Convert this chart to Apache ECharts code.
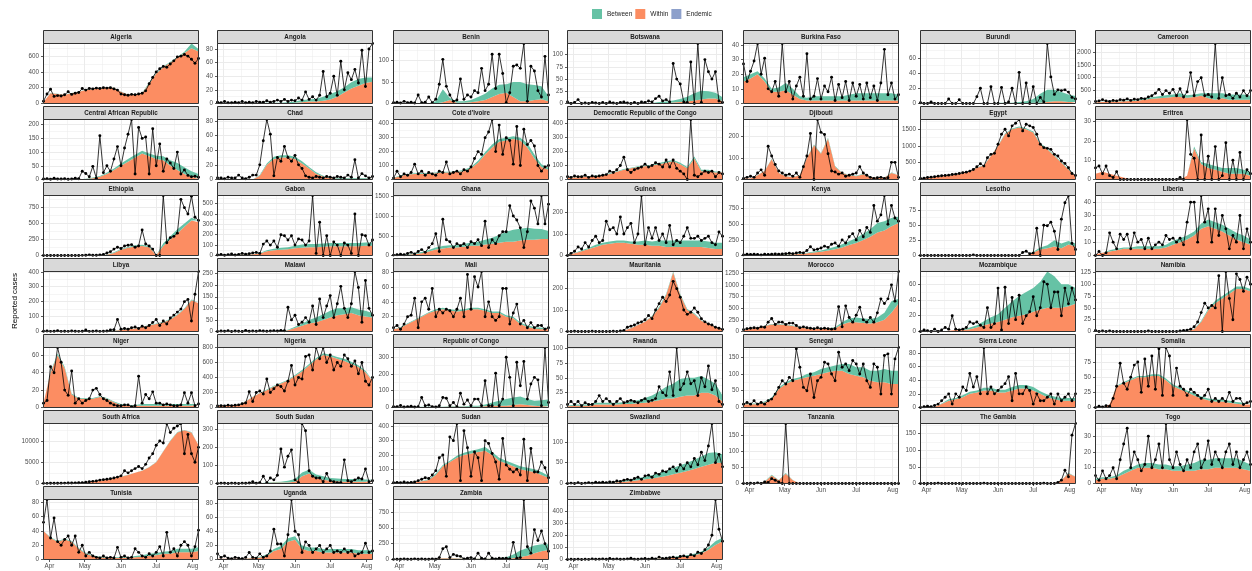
<!DOCTYPE html>
<html>
<head>
<meta charset="utf-8">
<script src="https://cdn.jsdelivr.net/npm/echarts@6/dist/echarts.min.js"></script>
<style>html,body{margin:0;padding:0;background:#fff}#chart{width:1252px;height:571px}</style>
</head>
<body>
<div id="chart"></div>
<script>
// ---- time frame (daily categories) ----
const startDate = [2020, 2, 27];   // 27 Mar 2020
const dayCount = 133;              // through 6 Aug 2020
const monthNames = ['Jan','Feb','Mar','Apr','May','Jun','Jul','Aug','Sep','Oct','Nov','Dec'];

// ---- panels ----
const countries = ['Algeria','Angola','Benin','Botswana','Burkina Faso','Burundi','Cameroon',
 'Central African Republic','Chad',"Cote d'Ivoire",'Democratic Republic of the Congo','Djibouti','Egypt','Eritrea',
 'Ethiopia','Gabon','Ghana','Guinea','Kenya','Lesotho','Liberia',
 'Libya','Malawi','Mali','Mauritania','Morocco','Mozambique','Namibia',
 'Niger','Nigeria','Republic of Congo','Rwanda','Senegal','Sierra Leone','Somalia',
 'South Africa','South Sudan','Sudan','Swaziland','Tanzania','The Gambia','Togo',
 'Tunisia','Uganda','Zambia','Zimbabwe'];
const yTickStep = [200,20,50,25,10,20,500, 50,20,100,100,100,500,10, 250,100,500,100,250,25,10,
 100,50,20,100,250,20,25, 20,200,100,25,50,20,25, 5000,100,100,50,50,50,10, 20,20,250,100];

// Reported cases: one value every 3 days; Within / Between: one value every 6 days
const R_Algeria=[30,120,180,90,100,95,110,150,115,130,140,190,170,190,185,195,190,200,195,200,185,170,120,110,105,115,110,120,130,160,250,330,400,440,470,460,500,540,590,600,620,600,560,510,570];
const W_Algeria=[20,130,120,110,130,150,170,180,190,200,200,150,110,110,130,250,380,460,520,580,640,700,660];
const B_Algeria=[0,2,3,3,3,3,3,3,3,3,3,3,3,3,5,15,10,10,10,10,15,60,30];
const R_Angola=[2,1,3,1,1,2,1,3,1,2,1,3,2,2,4,2,3,5,3,6,3,5,4,8,5,17,6,10,5,12,47,10,15,40,12,62,20,45,35,50,30,78,25,80,88];
const W_Angola=[0,0,0,0,0,0,0,0,0,0,0,1,2,3,3,4,6,10,16,22,26,30,32];
const B_Angola=[0,0,0,0,0,0,1,1,1,1,2,2,3,3,4,6,8,8,8,9,10,8,6];
const R_Benin=[2,3,1,5,2,3,1,20,2,3,15,2,10,45,103,40,20,5,8,57,10,20,15,30,25,82,30,45,115,35,115,70,2,25,87,90,82,140,5,87,76,30,15,110,20];
const W_Benin=[0,0,0,0,0,0,0,3,8,2,2,3,5,8,15,22,25,15,5,5,8,10,5];
const B_Benin=[0,0,0,0,0,0,5,30,5,3,3,5,10,15,20,22,20,35,45,40,35,30,12];
const R_Botswana=[3,0,2,8,0,1,0,2,1,0,2,0,3,1,0,2,3,1,0,2,0,3,2,5,3,10,15,5,8,3,82,50,40,3,2,85,0,123,2,90,65,50,65,5,2];
const W_Botswana=[0,0,0,0,0,0,0,0,0,0,0,0,0,1,1,2,3,4,6,8,10,10,5];
const B_Botswana=[0,0,0,0,0,0,0,0,0,0,0,1,1,2,3,4,6,10,15,18,15,12,8];
const R_BurkinaFaso=[27,15,22,29,41,20,31,10,8,15,5,41,8,15,3,12,18,5,34,3,5,17,3,12,8,18,2,13,4,15,2,14,5,13,3,14,4,12,2,14,37,6,14,3,6];
const W_BurkinaFaso=[15,17,20,15,8,8,9,6,3,2,2,2,2,2,2,2,2,2,2,2,2,2,2];
const B_BurkinaFaso=[3,3,2,2,2,3,5,4,2,2,3,3,3,3,3,4,5,5,5,5,5,5,4];
const R_Burundi=[1,0,0,2,0,0,0,0,6,0,0,5,0,0,0,0,9,20,0,0,22,0,0,21,0,2,20,0,41,0,27,0,22,0,8,2,79,35,12,18,17,18,15,8,6];
const W_Burundi=[0,0,0,0,0,0,0,0,0,0,0,0,0,0,0,0,1,1,2,3,3,2,2];
const B_Burundi=[0,0,0,0,0,0,0,0,0,0,0,1,1,1,2,3,5,12,16,15,12,10,8];
const R_Cameroon=[80,100,150,100,80,120,100,150,130,180,120,170,150,200,180,250,300,400,550,350,500,400,550,300,570,250,450,1200,300,850,1000,300,350,250,2330,200,1000,300,350,200,400,250,500,300,500];
const W_Cameroon=[50,60,70,80,90,100,120,150,180,200,220,250,250,220,250,300,200,150,200,150,150,150,150];
const B_Cameroon=[10,10,15,20,20,30,40,50,60,80,100,100,150,100,100,100,200,250,200,200,200,200,150];
const R_CAR=[2,3,1,5,2,2,3,1,2,5,3,30,22,10,48,5,160,25,50,30,75,120,50,115,165,219,20,190,150,155,20,185,50,130,30,75,60,40,100,20,35,15,10,12,8];
const W_CAR=[0,0,0,0,0,1,2,5,10,20,35,50,65,80,95,85,75,70,50,35,20,10,5];
const B_CAR=[0,0,0,0,0,0,1,2,3,5,5,8,10,10,10,10,12,15,20,25,25,20,15];
const R_Chad=[2,2,1,3,2,2,6,2,1,3,6,6,20,53,82,62,5,30,25,45,30,25,33,20,15,5,3,2,4,3,2,4,3,2,4,3,2,6,3,27,2,8,5,2,4];
const W_Chad=[0,0,0,0,0,0,5,20,28,30,30,28,22,15,8,4,2,1,1,1,1,1,1];
const B_Chad=[0,0,0,0,0,0,1,2,3,3,3,3,3,2,2,1,1,1,1,1,1,1,1];
const R_CoteDIvoire=[10,60,20,40,30,50,110,40,60,30,50,40,30,60,50,125,40,50,60,40,70,60,90,150,200,180,300,340,430,200,390,180,300,280,110,380,100,360,250,280,240,100,60,90,100];
const W_CoteDIvoire=[10,25,35,40,40,40,45,50,50,55,60,80,120,180,230,270,280,290,280,230,150,90,70];
const B_CoteDIvoire=[2,5,5,5,5,5,5,5,5,5,10,10,15,15,20,20,20,20,20,30,30,20,15];
const R_DRC=[20,15,25,20,20,30,15,25,20,25,30,35,60,50,70,100,160,70,50,70,80,90,110,90,100,120,110,90,140,90,140,80,60,40,0,430,30,20,40,60,50,60,20,50,40];
const W_DRC=[15,15,18,20,25,30,40,55,70,80,90,95,100,110,120,130,110,80,150,60,60,50,50];
const B_DRC=[2,2,2,2,3,3,5,5,5,5,5,5,5,8,10,10,10,10,15,10,10,8,5];
const R_Djibouti=[5,10,15,10,30,45,20,155,110,70,40,30,20,25,15,30,10,60,110,215,0,280,220,210,120,40,35,25,30,15,20,25,30,60,30,20,10,5,8,10,5,8,80,80,10];
const W_Djibouti=[5,5,20,40,95,30,15,10,20,100,160,120,190,60,30,20,15,25,10,8,8,30,20];
const B_Djibouti=[0,0,1,1,2,2,1,1,2,3,3,3,5,3,2,2,2,2,1,1,1,3,3];
const R_Egypt=[30,40,60,70,80,100,110,120,130,150,160,180,200,220,250,300,380,470,400,650,750,780,1050,1350,1500,1300,1600,1680,1790,1450,1650,1600,1550,1350,1050,950,930,900,750,700,550,480,350,180,120];
const W_Egypt=[20,50,70,100,120,150,190,240,350,420,700,1000,1350,1500,1550,1500,1400,1050,900,700,500,300,100];
const B_Egypt=[2,3,5,5,5,5,5,5,10,10,10,15,20,25,30,30,30,30,30,25,20,20,20];
const R_Eritrea=[6,7,3,7,2,1,4,0,0,0,0,0,0,0,0,0,0,0,0,0,0,0,0,0,1,0,31,13,11,0,23,0,12,0,17,0,2,19,0,10,0,14,0,5,3];
const W_Eritrea=[3,4,3,2,1,0,0,0,0,0,0,0,0,2,16,8,6,5,4,3,3,3,2];
const B_Eritrea=[0,0,0,0,0,0,0,0,0,0,0,0,0,0,1,1,2,2,2,3,3,2,2];
const R_Ethiopia=[0,0,1,0,0,0,1,0,0,1,0,2,5,10,5,3,10,15,40,60,100,130,110,150,160,170,130,150,400,180,150,100,0,0,940,200,280,300,350,880,750,650,930,600,550];
const W_Ethiopia=[0,0,0,0,0,0,0,1,3,10,40,90,120,140,150,130,5,150,250,350,450,550,520];
const B_Ethiopia=[0,0,0,0,0,0,0,0,2,5,10,10,15,20,20,20,0,40,50,60,50,40,30];
const R_Gabon=[5,10,3,8,15,5,10,20,12,18,25,30,20,110,140,100,140,80,200,190,150,190,100,160,150,100,140,578,20,320,0,190,0,130,100,0,120,100,20,400,0,200,190,100,150];
const W_Gabon=[2,3,5,8,10,12,20,40,50,55,60,70,75,80,80,85,90,90,90,90,90,95,95];
const B_Gabon=[0,1,1,2,2,3,5,10,15,20,20,25,30,30,30,30,30,30,30,30,30,30,30];
const R_Ghana=[10,20,30,20,50,80,40,100,150,80,200,300,550,100,920,400,350,200,300,250,300,200,350,300,400,250,870,200,400,300,500,600,600,1260,1000,900,700,200,600,1380,1200,800,1520,800,1300];
const W_Ghana=[5,10,20,40,60,100,150,180,200,200,220,250,250,280,300,320,350,350,380,400,400,420,420];
const B_Ghana=[2,5,10,20,30,40,50,60,60,60,70,80,100,120,150,200,250,300,300,300,280,250,200];
const R_Guinea=[0,10,20,40,30,60,40,70,90,60,70,160,120,130,100,180,100,130,150,60,100,280,50,130,80,130,70,100,60,140,50,70,60,90,130,80,80,90,70,80,90,60,50,110,90];
const W_Guinea=[2,10,20,30,40,50,55,60,60,55,50,50,45,45,40,40,40,40,40,40,35,30,30];
const B_Guinea=[1,2,5,5,10,10,10,10,10,10,15,20,20,25,30,30,30,30,30,30,30,30,30];
const R_Kenya=[10,20,15,20,15,10,20,15,20,25,20,25,30,35,30,40,50,40,80,140,90,100,120,150,130,180,200,150,250,200,300,350,250,400,300,450,370,800,550,650,960,500,800,600,550];
const W_Kenya=[5,8,10,10,12,15,18,20,25,35,50,60,80,100,130,170,200,250,300,370,400,470,520];
const B_Kenya=[2,2,2,3,3,5,5,5,10,10,15,20,30,40,50,60,80,100,120,150,150,130,100];
const R_Lesotho=[0,0,0,0,0,0,0,0,0,0,0,0,0,0,0,1,0,0,0,0,0,0,0,0,0,0,0,0,0,5,7,3,4,45,0,50,49,55,40,10,60,87,99,20,10];
const W_Lesotho=[0,0,0,0,0,0,0,0,0,0,0,0,0,0,0,0,5,10,12,15,12,18,15];
const B_Lesotho=[0,0,0,0,0,0,0,0,0,0,0,0,0,0,0,0,1,3,5,10,8,6,5];
const R_Liberia=[0,3,0,2,17,10,5,16,12,16,5,17,10,12,5,13,5,8,10,8,15,12,13,10,13,8,25,40,40,10,45,25,35,10,35,15,30,20,5,15,10,30,5,20,10];
const W_Liberia=[1,2,3,4,5,5,5,5,5,5,6,8,10,12,15,20,22,20,18,15,12,10,8];
const B_Liberia=[0,0,1,1,1,1,2,2,2,2,2,3,3,3,3,4,5,5,5,5,5,5,4];
const R_Libya=[2,3,1,2,5,1,2,1,3,2,1,2,10,1,2,3,1,2,3,10,12,80,15,20,15,25,30,20,35,25,40,60,80,40,70,50,90,110,130,150,200,215,70,250,402];
const W_Libya=[0,0,0,0,0,0,0,0,0,0,5,10,15,20,30,40,50,60,80,110,150,210,190];
const B_Libya=[0,0,0,0,0,0,0,0,0,0,1,1,2,2,2,3,3,5,5,5,5,5,5];
const R_Malawi=[0,2,1,3,0,2,1,0,5,1,2,1,3,2,1,2,3,2,5,3,105,50,70,30,40,60,40,110,30,140,60,110,155,60,120,195,100,60,120,259,190,40,220,100,70];
const W_Malawi=[0,0,0,0,0,0,0,0,1,2,5,15,25,35,40,50,60,70,75,80,70,65,60];
const B_Malawi=[0,0,0,0,0,0,0,0,0,1,3,5,10,15,20,25,30,30,25,25,25,25,20];
const R_Mali=[5,8,3,10,20,22,45,5,40,45,30,58,20,30,25,30,28,20,30,45,20,77,30,74,60,81,20,40,20,15,20,58,58,10,25,37,10,15,5,12,5,8,8,3,5];
const W_Mali=[3,5,10,15,20,25,28,30,28,27,28,30,30,28,25,25,20,18,10,6,4,3,3];
const B_Mali=[0,1,1,1,1,1,2,2,2,2,2,2,2,2,2,2,2,2,2,2,2,2,2];
const R_Mauritania=[0,0,1,0,0,0,0,1,0,0,0,0,0,1,0,2,5,20,25,30,40,45,55,75,60,100,130,160,140,170,234,200,160,100,80,90,110,90,60,45,35,30,20,15,10];
const W_Mauritania=[0,0,0,0,0,0,0,0,3,15,30,45,70,110,170,275,170,100,80,50,35,20,10];
const B_Mauritania=[0,0,0,0,0,0,0,0,0,1,2,2,3,5,5,5,5,5,5,3,2,2,2];
const R_Morocco=[40,60,70,80,70,100,90,200,280,150,200,200,150,180,180,130,80,100,80,70,60,80,60,70,60,50,60,530,100,550,300,200,350,520,250,200,300,200,400,700,600,700,1000,650,1286];
const W_Morocco=[30,60,80,120,150,150,140,120,80,70,60,60,60,70,150,200,200,180,170,200,250,400,600];
const B_Morocco=[5,5,5,5,10,10,10,10,10,10,10,10,10,20,50,80,100,100,100,100,150,250,100];
const R_Mozambique=[0,2,1,0,3,0,2,5,3,20,3,2,3,5,12,10,12,8,5,30,5,10,55,2,56,10,43,15,46,10,20,25,44,20,30,63,60,30,50,50,20,55,35,55,40];
const W_Mozambique=[0,0,0,0,1,2,2,3,5,8,10,12,15,18,20,22,25,28,30,30,30,32,35];
const B_Mozambique=[0,0,0,0,0,0,1,2,3,5,8,10,15,20,25,28,30,35,46,40,30,28,20];
const R_Namibia=[2,0,1,0,1,0,0,0,0,0,0,0,0,0,0,1,0,0,0,0,0,0,0,0,1,2,3,5,10,20,40,60,50,55,50,118,0,127,70,25,122,110,85,115,100];
const W_Namibia=[0,0,0,0,0,0,0,0,0,0,0,0,0,1,5,20,45,60,70,80,90,90,85];
const B_Namibia=[0,0,0,0,0,0,0,0,0,0,0,0,0,0,1,2,3,5,5,5,5,5,5];
const R_Niger=[5,8,47,40,69,52,20,14,42,5,10,5,8,10,20,22,15,10,8,5,3,2,2,3,3,1,2,36,5,15,10,18,5,5,3,4,3,2,2,3,17,5,17,2,4];
const W_Niger=[5,40,60,45,15,10,10,10,12,10,6,3,2,2,2,2,2,2,2,2,2,2,2];
const B_Niger=[0,1,2,2,1,1,1,1,1,1,1,1,1,1,2,2,2,2,2,2,2,2,2];
const R_Nigeria=[20,25,20,30,25,30,35,50,60,210,80,200,220,180,380,200,250,300,280,220,350,560,300,400,380,680,700,500,800,650,800,600,700,500,600,550,700,650,550,620,450,600,350,300,400];
const W_Nigeria=[20,20,25,35,80,140,190,230,280,320,360,420,480,560,640,700,680,650,620,580,540,470,350];
const B_Nigeria=[2,2,2,3,5,5,5,10,10,10,10,15,20,20,20,25,25,25,30,30,25,20,15];
const R_RepCongo=[5,5,12,3,5,8,3,5,60,10,15,5,3,10,60,55,10,30,5,85,20,45,10,50,50,10,160,10,10,205,10,50,300,180,10,270,130,275,50,140,180,165,10,358,30];
const W_RepCongo=[1,2,2,2,3,3,3,3,5,5,5,5,5,8,10,10,10,15,20,15,10,8,8];
const B_RepCongo=[1,1,1,1,2,2,2,2,3,3,3,5,5,10,20,30,40,45,45,35,30,35,40];
const R_Rwanda=[5,10,5,10,3,8,5,5,10,20,10,15,10,5,10,15,8,10,12,10,8,12,15,10,12,15,35,25,20,60,20,101,30,40,60,40,45,20,50,35,70,30,45,10,5];
const W_Rwanda=[2,3,3,3,5,5,5,5,6,6,7,8,10,12,15,15,18,20,20,25,25,20,10];
const B_Rwanda=[1,2,2,2,3,3,3,3,3,4,5,8,10,15,20,25,30,30,30,28,22,20,10];
const R_Senegal=[10,15,10,20,10,15,10,20,25,40,60,80,70,90,80,175,120,60,50,100,30,80,90,135,130,100,80,165,120,130,110,140,130,100,130,80,60,130,120,40,155,160,40,145,179];
const W_Senegal=[10,10,10,15,25,55,70,80,85,90,95,100,105,110,110,100,95,90,80,75,75,70,70];
const B_Senegal=[2,2,2,3,5,5,5,5,5,10,10,15,15,15,20,30,25,30,30,35,40,40,40];
const R_SierraLeone=[0,1,2,1,3,5,10,15,20,5,20,15,30,25,50,30,45,20,88,20,30,20,25,30,35,45,10,50,20,20,30,25,5,20,10,10,15,20,5,20,10,15,20,10,20];
const W_SierraLeone=[0,0,1,5,10,12,15,20,22,25,25,22,22,25,28,28,25,20,15,12,10,10,10];
const B_SierraLeone=[0,0,0,1,2,2,3,3,3,4,4,4,4,5,5,5,5,4,4,4,4,4,4];
const R_Somalia=[0,2,1,3,2,15,35,73,40,30,50,70,75,25,80,35,85,30,97,20,99,85,20,65,35,30,20,30,25,20,15,20,30,10,15,10,15,10,25,10,15,15,5,8,10];
const W_Somalia=[0,0,5,35,40,45,50,50,52,52,45,35,30,25,20,15,12,10,10,8,6,5,5];
const B_Somalia=[0,0,0,1,2,2,2,2,3,3,3,3,3,3,3,3,3,3,3,3,3,3,2];
const R_SouthAfrica=[30,40,50,60,70,80,90,100,120,150,180,200,300,400,500,600,800,900,1000,1100,1300,1500,1800,3000,2500,3000,3500,4000,3500,4500,6000,7000,9000,10000,9500,14100,12000,13000,13500,14100,7000,11500,7000,5000,8500];
const W_SouthAfrica=[20,30,40,50,70,100,200,400,600,900,1200,1600,2000,2500,3000,3800,5000,7500,10000,12000,12500,12000,9000];
const B_SouthAfrica=[0,0,0,0,0,0,5,10,10,20,20,30,30,40,50,50,60,80,100,100,100,100,80];
const R_SouthSudan=[0,2,1,0,2,1,0,2,1,3,10,2,5,40,5,30,20,45,190,90,150,185,20,5,330,290,70,40,30,30,10,55,15,10,5,5,130,15,10,20,30,25,80,10,15];
const W_SouthSudan=[0,0,0,0,0,0,1,3,5,5,5,10,40,55,30,20,15,12,10,10,10,10,10];
const B_SouthSudan=[0,0,0,0,0,0,1,2,3,5,10,15,20,20,20,20,15,15,15,15,15,12,10];
const R_Sudan=[5,8,5,10,5,8,10,20,30,40,35,60,90,180,200,50,325,300,420,20,370,250,50,220,180,20,300,280,210,150,30,315,130,100,80,100,60,310,20,245,80,80,150,110,40];
const W_Sudan=[2,3,5,8,15,25,60,120,150,180,200,210,220,230,200,160,140,120,100,90,80,60,40];
const B_Sudan=[1,1,2,2,3,5,10,10,10,15,15,20,20,25,20,20,20,20,20,20,20,20,15];
const R_Swaziland=[0,1,0,2,0,1,2,1,3,2,3,2,4,3,6,5,8,10,8,12,15,10,18,20,15,25,22,30,28,35,40,30,45,35,50,40,60,45,75,55,90,144,50,70,40];
const W_Swaziland=[0,0,0,1,1,2,2,3,4,6,8,10,12,15,18,22,26,30,35,40,45,50,50];
const B_Swaziland=[0,0,0,0,1,1,1,2,3,4,5,6,8,10,12,15,18,20,22,25,28,25,20];
const R_Tanzania=[0,0,1,0,2,0,5,3,15,10,5,0,185,0,0,0,0,0,0,0,0,0,0,0,0,0,0,0,0,0,0,0,0,0,0,0,0,0,0,0,0,0,0,0,0];
const W_Tanzania=[0,0,1,5,25,10,30,10,0,0,0,0,0,0,0,0,0,0,0,0,0,0,0];
const B_Tanzania=[0,0,0,1,2,1,2,1,0,0,0,0,0,0,0,0,0,0,0,0,0,0,0];
const R_Gambia=[0,0,0,0,0,1,0,0,0,0,0,0,0,0,0,0,0,0,1,0,0,0,0,0,0,0,0,0,0,0,0,0,0,0,0,1,0,0,0,3,10,40,20,145,180];
const W_Gambia=[0,0,0,0,0,0,0,0,0,0,0,0,0,0,0,0,0,0,0,0,10,30,20];
const B_Gambia=[0,0,0,0,0,0,0,0,0,0,0,0,0,0,0,0,0,0,0,0,0,2,0];
const R_Togo=[5,2,8,3,5,10,3,15,25,35,10,20,15,8,12,30,10,15,25,10,38,15,10,20,12,8,15,10,20,25,10,15,27,12,20,15,10,20,25,12,20,10,15,20,12];
const W_Togo=[2,3,3,4,6,8,10,10,10,9,9,8,8,8,8,9,9,10,10,10,10,9,8];
const B_Togo=[1,1,1,1,2,2,2,3,3,3,3,3,3,4,5,6,6,6,6,6,6,5,4];
const R_Tunisia=[52,84,30,58,25,20,28,33,20,33,10,20,5,10,5,3,2,5,2,3,2,17,3,5,2,3,15,10,5,3,8,5,10,18,5,38,10,15,5,20,25,20,5,18,41];
const W_Tunisia=[40,30,25,28,25,15,8,5,3,2,2,2,2,3,4,5,6,8,8,10,10,10,12];
const B_Tunisia=[0,1,1,1,1,1,1,1,1,1,1,1,1,2,2,3,3,3,4,5,5,5,5];
const R_Uganda=[8,3,5,2,1,3,2,1,3,10,3,2,8,3,5,12,43,22,22,5,35,85,40,35,10,25,20,10,15,20,10,15,20,10,12,10,15,10,12,5,8,10,23,10,12];
const W_Uganda=[1,1,1,1,1,2,3,5,12,15,25,28,15,12,12,10,10,10,10,10,8,8,8];
const B_Uganda=[0,0,0,0,0,1,1,2,3,4,5,5,5,5,5,5,5,5,5,5,5,5,5];
const R_Zambia=[2,5,3,8,5,3,10,5,8,3,5,10,5,30,170,200,30,80,60,50,10,20,30,10,100,20,10,100,20,10,20,15,20,10,270,20,30,945,200,100,470,300,450,250,130];
const W_Zambia=[0,0,1,2,3,5,10,20,20,15,10,10,10,10,10,10,15,20,40,60,100,130,150];
const B_Zambia=[0,0,0,1,1,2,3,5,5,5,5,5,5,5,5,10,20,60,100,120,120,110,90];
const R_Zimbabwe=[0,2,1,3,0,2,1,5,2,3,5,2,8,3,5,2,3,5,10,3,2,5,8,3,10,5,20,8,10,15,20,10,25,30,20,40,30,60,50,80,120,200,495,250,150];
const W_Zimbabwe=[0,0,0,0,0,0,0,0,0,1,2,3,5,8,10,15,20,25,35,50,80,120,150];
const B_Zimbabwe=[0,0,0,0,0,0,0,0,0,0,1,1,2,3,5,5,8,10,12,15,20,30,30];

const reportedList=[R_Algeria,R_Angola,R_Benin,R_Botswana,R_BurkinaFaso,R_Burundi,R_Cameroon,R_CAR,R_Chad,R_CoteDIvoire,R_DRC,R_Djibouti,R_Egypt,R_Eritrea,R_Ethiopia,R_Gabon,R_Ghana,R_Guinea,R_Kenya,R_Lesotho,R_Liberia,R_Libya,R_Malawi,R_Mali,R_Mauritania,R_Morocco,R_Mozambique,R_Namibia,R_Niger,R_Nigeria,R_RepCongo,R_Rwanda,R_Senegal,R_SierraLeone,R_Somalia,R_SouthAfrica,R_SouthSudan,R_Sudan,R_Swaziland,R_Tanzania,R_Gambia,R_Togo,R_Tunisia,R_Uganda,R_Zambia,R_Zimbabwe];
const withinList=[W_Algeria,W_Angola,W_Benin,W_Botswana,W_BurkinaFaso,W_Burundi,W_Cameroon,W_CAR,W_Chad,W_CoteDIvoire,W_DRC,W_Djibouti,W_Egypt,W_Eritrea,W_Ethiopia,W_Gabon,W_Ghana,W_Guinea,W_Kenya,W_Lesotho,W_Liberia,W_Libya,W_Malawi,W_Mali,W_Mauritania,W_Morocco,W_Mozambique,W_Namibia,W_Niger,W_Nigeria,W_RepCongo,W_Rwanda,W_Senegal,W_SierraLeone,W_Somalia,W_SouthAfrica,W_SouthSudan,W_Sudan,W_Swaziland,W_Tanzania,W_Gambia,W_Togo,W_Tunisia,W_Uganda,W_Zambia,W_Zimbabwe];
const betweenList=[B_Algeria,B_Angola,B_Benin,B_Botswana,B_BurkinaFaso,B_Burundi,B_Cameroon,B_CAR,B_Chad,B_CoteDIvoire,B_DRC,B_Djibouti,B_Egypt,B_Eritrea,B_Ethiopia,B_Gabon,B_Ghana,B_Guinea,B_Kenya,B_Lesotho,B_Liberia,B_Libya,B_Malawi,B_Mali,B_Mauritania,B_Morocco,B_Mozambique,B_Namibia,B_Niger,B_Nigeria,B_RepCongo,B_Rwanda,B_Senegal,B_SierraLeone,B_Somalia,B_SouthAfrica,B_SouthSudan,B_Sudan,B_Swaziland,B_Tanzania,B_Gambia,B_Togo,B_Tunisia,B_Uganda,B_Zambia,B_Zimbabwe];

// ---- styling / layout ----
const FONT = '"Liberation Sans", Arial, Helvetica, sans-serif';
const COL_BETWEEN = '#66C2A5', COL_WITHIN = '#FC8D62', COL_ENDEMIC = '#8DA0CB';
const GRID_COL = '#EBEBEB', BORDER_COL = '#333333', TEXT_COL = '#4D4D4D';
const colLeft = [43.5, 217.5, 393.5, 567.5, 743.5, 920.5, 1095.5];
const panelW = 155, plotH = 60, stripH = 13, rowPitch = 76, firstStripTop = 30.5;

const dates = [];
for (let d = 0; d < dayCount; d++) {
  const dt = new Date(startDate[0], startDate[1], startDate[2] + d);
  dates.push(dt.getFullYear() + '-' + String(dt.getMonth() + 1).padStart(2, '0') + '-' + String(dt.getDate()).padStart(2, '0'));
}
const dayOf = (i, n) => Math.round(i * (dayCount - 1) / (n - 1));
const toPts = arr => arr.map((v, i) => [dates[dayOf(i, arr.length)], v]);
const isMonthStart = (idx, val) => String(val).slice(8) === '01';
const isMidMonth = (idx, val) => String(val).slice(8) === '16';
const monthLabel = val => monthNames[parseInt(String(val).slice(5, 7), 10) - 1];

const grids = [], xAxes = [], yAxes = [], series = [], elements = [];

countries.forEach((name, k) => {
  const r = Math.floor(k / 7), c = k % 7;
  const left = colLeft[c];
  const stripTop = firstStripTop + r * rowPitch;
  const top = stripTop + stripH;
  const isBottom = k + 7 >= countries.length;
  const rep = reportedList[k], win = withinList[k], bet = betweenList[k];
  const yMax = Math.max(...rep, ...win.map((w, i) => w + bet[i]));
  const step = yTickStep[k];
  const ticks = [];
  for (let v = 0; v <= yMax + 1e-9; v += step) ticks.push(v);

  grids.push({ left: left, top: top, width: panelW, height: plotH, show: false, containLabel: false, outerBoundsMode: 'none' });

  xAxes.push({
    type: 'category', gridIndex: k, data: dates, boundaryGap: false,
    axisLine: { show: false },
    axisTick: { show: isBottom, interval: isMonthStart, length: 2.5, lineStyle: { color: BORDER_COL, width: 0.8 } },
    axisLabel: { show: isBottom, interval: isMonthStart, formatter: monthLabel, fontSize: 6.3, color: TEXT_COL, margin: 3.5, fontFamily: FONT },
    splitLine: { show: true, interval: isMonthStart, lineStyle: { color: GRID_COL, width: 1 } }
  });
  xAxes.push({
    type: 'category', gridIndex: k, position: 'top', data: dates, boundaryGap: false,
    axisLine: { show: false }, axisTick: { show: false }, axisLabel: { show: false },
    splitLine: { show: true, interval: isMidMonth, lineStyle: { color: GRID_COL, width: 0.5 } }
  });

  yAxes.push({
    type: 'value', gridIndex: k, min: 0, max: yMax, interval: step,
    axisLine: { show: false },
    axisTick: { show: true, length: 2.5, customValues: ticks, lineStyle: { color: BORDER_COL, width: 0.8 } },
    axisLabel: {
      customValues: ticks, fontSize: 6.3, color: TEXT_COL, margin: 4.5, fontFamily: FONT,
      formatter: v => (Math.abs(v / step - Math.round(v / step)) < 1e-6 ? String(Math.round(v)) : '')
    },
    splitLine: { show: true, lineStyle: { color: GRID_COL, width: 1 } }
  });
  yAxes.push({
    type: 'value', gridIndex: k, min: 0, max: yMax, interval: step / 2, position: 'right',
    axisLine: { show: false }, axisTick: { show: false }, axisLabel: { show: false },
    splitLine: { show: true, lineStyle: { color: GRID_COL, width: 0.5 } }
  });

  series.push({
    name: 'Within', type: 'line', xAxisIndex: 2 * k, yAxisIndex: 2 * k, stack: 'st' + k,
    data: toPts(win), symbol: 'none', color: COL_WITHIN,
    lineStyle: { width: 0, opacity: 0 }, areaStyle: { color: COL_WITHIN, opacity: 1 }, z: 2, silent: true
  });
  series.push({
    name: 'Between', type: 'line', xAxisIndex: 2 * k, yAxisIndex: 2 * k, stack: 'st' + k,
    data: toPts(bet), symbol: 'none', color: COL_BETWEEN,
    lineStyle: { width: 0, opacity: 0 }, areaStyle: { color: COL_BETWEEN, opacity: 1 }, z: 2, silent: true
  });
  series.push({
    name: 'Reported', type: 'line', xAxisIndex: 2 * k, yAxisIndex: 2 * k,
    data: toPts(rep), symbol: 'circle', symbolSize: 2.9, showAllSymbol: true, color: '#000',
    lineStyle: { color: '#000', width: 0.8 }, itemStyle: { color: '#000' }, z: 3, silent: true
  });

  elements.push({ type: 'rect', silent: true, z: 100,
    shape: { x: left, y: stripTop, width: panelW, height: stripH },
    style: { fill: '#D9D9D9', stroke: BORDER_COL, lineWidth: 1 } });
  elements.push({ type: 'text', silent: true, z: 101, x: left + panelW / 2, y: stripTop + stripH / 2 + 0.3,
    style: { text: name, fill: '#1A1A1A', fontSize: 6.3, fontWeight: 'bold', fontFamily: FONT, align: 'center', verticalAlign: 'middle' } });
  elements.push({ type: 'rect', silent: true, z: 100,
    shape: { x: left, y: top, width: panelW, height: plotH },
    style: { fill: 'none', stroke: BORDER_COL, lineWidth: 1 } });
});

series.push({ name: 'Endemic', type: 'line', xAxisIndex: 0, yAxisIndex: 0, data: [], color: COL_ENDEMIC, itemStyle: { color: COL_ENDEMIC } });

elements.push({ type: 'text', silent: true, z: 101, x: 15, y: 301, rotation: Math.PI / 2,
  style: { text: 'Reported cases', fill: '#000', fontSize: 8, fontFamily: FONT, align: 'center', verticalAlign: 'middle' } });

const chart = echarts.init(document.getElementById('chart'), null, { renderer: 'canvas' });
chart.setOption({
  animation: false,
  backgroundColor: '#ffffff',
  legend: {
    data: [
      { name: 'Between', itemStyle: { color: COL_BETWEEN, borderWidth: 0 } },
      { name: 'Within', itemStyle: { color: COL_WITHIN, borderWidth: 0 } },
      { name: 'Endemic', itemStyle: { color: COL_ENDEMIC, borderWidth: 0 } }
    ],
    icon: 'rect', itemWidth: 10, itemHeight: 10, itemGap: 3, left: 592, top: 9, padding: 0,
    selectedMode: false, textStyle: { fontSize: 6.5, color: '#1A1A1A', fontFamily: FONT }
  },
  grid: grids,
  xAxis: xAxes,
  yAxis: yAxes,
  series: series,
  graphic: { elements: elements }
});
</script>
</body>
</html>
